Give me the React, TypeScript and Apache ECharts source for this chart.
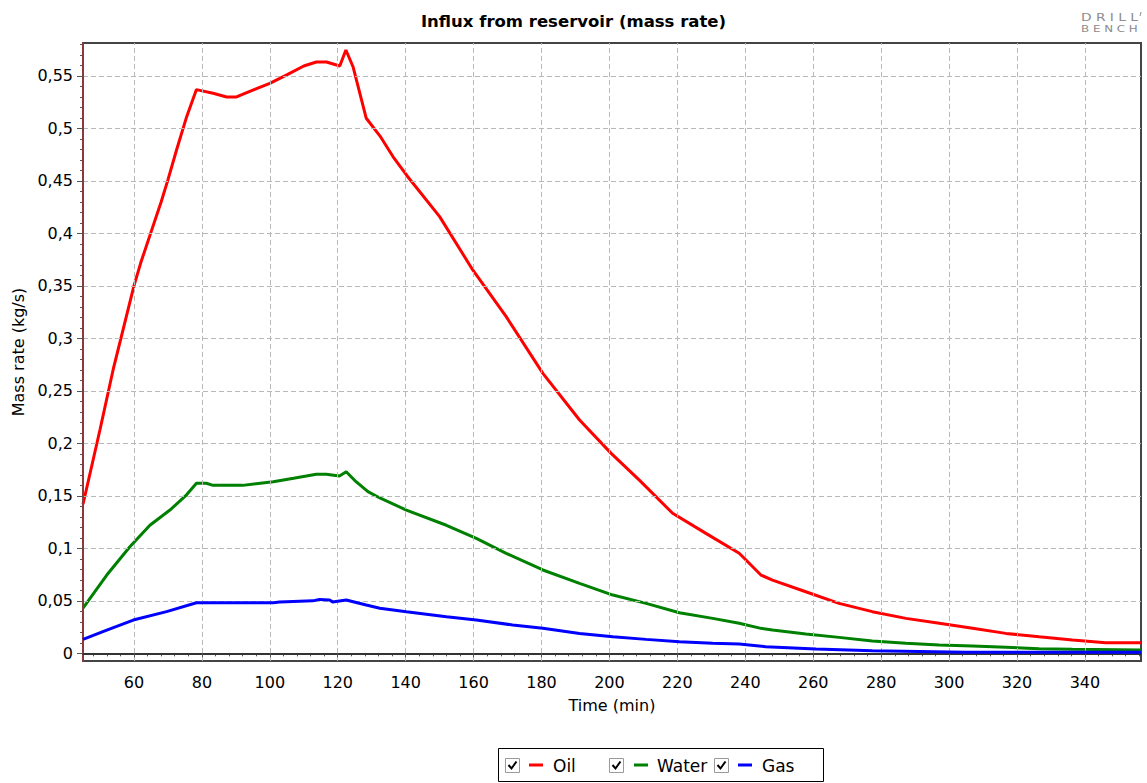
import React, { useEffect, useRef } from "react";
import * as echarts from "echarts";

const seriesNames = ["Oil", "Water", "Gas"];
const seriesColors = ["#ff0000", "#008000", "#0000ff"];

const oilData: [number, number][] = [
  [45, 0.142], [50, 0.213], [54, 0.272], [57, 0.311], [60, 0.35], [62, 0.372],
  [65, 0.401], [68, 0.43], [70, 0.451], [72.5, 0.479], [75.5, 0.511], [78.4, 0.537],
  [83.3, 0.5335], [87.3, 0.53], [90.2, 0.53], [95, 0.5365], [100, 0.543], [105, 0.551],
  [110, 0.5595], [113.7, 0.5633], [116.7, 0.5633], [120.6, 0.5595], [122.4, 0.5747],
  [124.5, 0.5588], [128.4, 0.5097], [132.4, 0.493], [136.3, 0.473], [140.5, 0.4545],
  [150, 0.416], [159.8, 0.365], [169.6, 0.3207], [180.4, 0.2667], [191.2, 0.2223],
  [200.5, 0.1905], [208.8, 0.165], [218.6, 0.1334], [228.4, 0.1143], [238.2, 0.0953],
  [244.6, 0.0746], [248, 0.0698], [257.8, 0.0587], [267.6, 0.0476], [277.4, 0.0397],
  [287.3, 0.0333], [297.1, 0.0286], [306.9, 0.0238], [316.7, 0.019], [326.5, 0.0158],
  [336.3, 0.0127], [346.1, 0.0101], [356.5, 0.0101],
];

const waterData: [number, number][] = [
  [45, 0.043], [52, 0.0746], [58.8, 0.1016], [64.7, 0.122], [70.6, 0.1365], [75.5, 0.151],
  [78.4, 0.162], [81.3, 0.162], [83.3, 0.16], [92, 0.16], [101, 0.1635], [107, 0.1667],
  [113.7, 0.1705], [116.6, 0.1705], [120.5, 0.169], [122.5, 0.173], [125.4, 0.1635],
  [128.9, 0.154], [132.4, 0.148], [140.2, 0.1365], [152, 0.122], [160.8, 0.1095],
  [169.6, 0.0953], [180.4, 0.0794], [191.2, 0.0667], [201, 0.0555], [210.8, 0.0476],
  [220.6, 0.0387], [230.4, 0.0333], [238.2, 0.0286], [244.6, 0.0238], [248, 0.0222],
  [257.8, 0.0184], [267.6, 0.0152], [277.4, 0.0117], [287.3, 0.0095], [297.1, 0.0079],
  [306.9, 0.007], [316.7, 0.0057], [326.5, 0.0044], [336.3, 0.0038], [356.5, 0.0031],
];

const gasData: [number, number][] = [
  [45, 0.0133], [52, 0.0222], [59.8, 0.0317], [69.6, 0.0397], [78.4, 0.0482], [101, 0.0482],
  [102.9, 0.049], [112.7, 0.05], [114.6, 0.0514], [117.6, 0.0508], [118.5, 0.049],
  [122.5, 0.0508], [128.4, 0.046], [132.4, 0.0429], [140.2, 0.0397], [152, 0.0349],
  [160.8, 0.0317], [171.5, 0.027], [180.4, 0.0238], [191.2, 0.019], [201, 0.0158],
  [210.8, 0.0133], [220.6, 0.011], [230.4, 0.0095], [238.2, 0.0089], [246, 0.0063],
  [260.8, 0.0041], [277.4, 0.0025], [304.8, 0.001], [356.5, 0.001],
];

const allData = [oilData, waterData, gasData];

// Axis ranges and tick values
const xRange = [45, 356.5];
const yRange = [-0.0073, 0.5814];
const xTicks = [60, 80, 100, 120, 140, 160, 180, 200, 220, 240, 260, 280, 300, 320, 340];
const yTicks = [0, 0.05, 0.1, 0.15, 0.2, 0.25, 0.3, 0.35, 0.4, 0.45, 0.5, 0.55];
const xMinorTicks = [
  48, 52, 56, 64, 68, 72, 76, 84, 88, 92, 96, 104, 108, 112, 116, 124, 128, 132, 136,
  144, 148, 152, 156, 164, 168, 172, 176, 184, 188, 192, 196, 204, 208, 212, 216,
  224, 228, 232, 236, 244, 248, 252, 256, 264, 268, 272, 276, 284, 288, 292, 296,
  304, 308, 312, 316, 324, 328, 332, 336, 344, 348, 352, 356,
];
const yMinorTicks = [
  0.01, 0.02, 0.03, 0.04, 0.06, 0.07, 0.08, 0.09, 0.11, 0.12, 0.13, 0.14, 0.16, 0.17,
  0.18, 0.19, 0.21, 0.22, 0.23, 0.24, 0.26, 0.27, 0.28, 0.29, 0.31, 0.32, 0.33, 0.34,
  0.36, 0.37, 0.38, 0.39, 0.41, 0.42, 0.43, 0.44, 0.46, 0.47, 0.48, 0.49, 0.51, 0.52,
  0.53, 0.54, 0.56, 0.57, 0.58,
];

const FONT = "'DejaVu Sans', sans-serif";

function fmtY(v: number): string {
  const r = Math.round(v * 1000) / 1000;
  return String(r).replace(".", ",");
}

function fmtX(v: number): string {
  return String(Math.round(v));
}

export default function App() {
  const ref = useRef<HTMLDivElement>(null);

  useEffect(() => {
    if (!ref.current) return;
    const chart = echarts.init(ref.current, null, { renderer: "svg" });

    const legendX = [505, 609, 714];
    const legendLineX = [529, 634, 738];
    const legendTextX = [553, 657, 762];
    const legendGraphics: any[] = [
      {
        type: "rect",
        shape: { x: 498.5, y: 748.5, width: 325, height: 33 },
        style: { fill: "#fff", stroke: "#000", lineWidth: 1 },
        z: 10,
      },
    ];
    seriesNames.forEach((name, i) => {
      legendGraphics.push({
        type: "rect",
        shape: { x: legendX[i] + 0.5, y: 758.5, width: 14, height: 14 },
        style: { fill: "#fff", stroke: "#9a9a9a", lineWidth: 1 },
        z: 11,
      });
      legendGraphics.push({
        type: "polyline",
        shape: {
          points: [
            [legendX[i] + 3.5, 765],
            [legendX[i] + 6.5, 768.5],
            [legendX[i] + 11.5, 761.5],
          ],
        },
        style: { stroke: "#000", lineWidth: 2, fill: null },
        z: 12,
      });
      legendGraphics.push({
        type: "line",
        shape: { x1: legendLineX[i], y1: 765, x2: legendLineX[i] + 14, y2: 765 },
        style: { stroke: seriesColors[i], lineWidth: 3 },
        z: 11,
      });
      legendGraphics.push({
        type: "text",
        x: legendTextX[i],
        y: 766,
        style: {
          text: name,
          fill: "#000",
          font: `17px ${FONT}`,
          textAlign: "left",
          textVerticalAlign: "middle",
        },
        z: 11,
      });
    });

    const logoGraphics: any[] = [
      {
        type: "text",
        x: 1081,
        y: 17,
        scaleX: 1.25,
        style: {
          text: "D R I L L",
          fill: "#8c8c8c",
          font: `11px ${FONT}`,
          textAlign: "left",
          textVerticalAlign: "middle",
        },
      },
      {
        type: "text",
        x: 1081,
        y: 28.5,
        scaleX: 1.32,
        style: {
          text: "B E N C H",
          fill: "#8c8c8c",
          font: `9px ${FONT}`,
          textAlign: "left",
          textVerticalAlign: "middle",
        },
      },
      {
        type: "line",
        shape: { x1: 1141, y1: 12, x2: 1140, y2: 16 },
        style: { stroke: "#8c8c8c", lineWidth: 1 },
      },
    ];

    const tickStyle = { color: "#555", width: 1 };
    const gridLineStyle = { color: "#b8b8b8", width: 1, type: [5, 3] };

    const gridSeries: any = {
      name: "grid",
      type: "line",
      xAxisIndex: 0,
      yAxisIndex: 0,
      data: [],
      showSymbol: false,
      symbol: "none",
      silent: true,
      z: 1,
      lineStyle: { width: 0 },
      markLine: {
        silent: true,
        symbol: ["none", "none"],
        label: { show: false },
        lineStyle: gridLineStyle,
        emphasis: { disabled: true },
        animation: false,
        data: [
          ...xTicks.map((v) => ({ xAxis: v })),
          ...yTicks.map((v) => ({ yAxis: v })),
        ],
      },
    };

    const option: any = {
      animation: false,
      backgroundColor: "#fff",
      textStyle: { fontFamily: FONT },
      title: {
        text: "Influx from reservoir (mass rate)",
        left: "center",
        top: 8,
        textStyle: { fontFamily: FONT, fontSize: 16.5, fontWeight: "bold", color: "#000" },
      },
      grid: {
        left: 83,
        top: 43,
        right: 6,
        bottom: 122,
        show: true,
        borderColor: "#444",
        borderWidth: 2,
        backgroundColor: "#fff",
      },
      xAxis: [
        {
          type: "value",
          min: xRange[0],
          max: xRange[1],
          name: "Time (min)",
          nameLocation: "middle",
          nameGap: 36,
          nameTextStyle: { fontFamily: FONT, fontSize: 16, color: "#000" },
          axisLine: { show: true, lineStyle: { color: "#333", width: 2 } },
          axisTick: { show: true, length: 4, customValues: xTicks, lineStyle: tickStyle },
          minorTick: { show: false },
          axisLabel: {
            customValues: xTicks,
            formatter: fmtX,
            fontFamily: FONT,
            fontSize: 16,
            color: "#000",
            margin: 13,
          },
          splitLine: { show: false },
          z: 5,
        },
        {
          type: "value",
          min: xRange[0],
          max: xRange[1],
          position: "bottom",
          axisLine: { show: false },
          axisTick: { show: true, length: 3, customValues: xMinorTicks, lineStyle: tickStyle },
          axisLabel: { show: false },
          splitLine: { show: false },
        },
      ],
      yAxis: [
        {
          type: "value",
          min: yRange[0],
          max: yRange[1],
          name: "Mass rate (kg/s)",
          nameLocation: "middle",
          nameGap: 55,
          nameRotate: 90,
          nameTextStyle: { fontFamily: FONT, fontSize: 16, color: "#000" },
          axisLine: { show: true, lineStyle: { color: "#8b3a3a", width: 2 } },
          axisTick: { show: true, length: 6, customValues: yTicks, lineStyle: tickStyle },
          minorTick: { show: false },
          axisLabel: {
            customValues: yTicks,
            formatter: fmtY,
            fontFamily: FONT,
            fontSize: 16,
            color: "#000",
            margin: 10,
          },
          splitLine: { show: false },
          z: 5,
        },
        {
          type: "value",
          min: yRange[0],
          max: yRange[1],
          position: "left",
          axisLine: { show: false },
          axisTick: { show: true, length: 3, customValues: yMinorTicks, lineStyle: tickStyle },
          axisLabel: { show: false },
          splitLine: { show: false },
        },
      ],
      series: [
        gridSeries,
        ...seriesNames.map((name, i) => ({
          name,
          type: "line",
          xAxisIndex: 0,
          yAxisIndex: 0,
          data: allData[i],
          showSymbol: false,
          symbol: "none",
          lineStyle: { color: seriesColors[i], width: 3 },
          itemStyle: { color: seriesColors[i] },
          clip: true,
          z: 3 + i,
        })),
      ],
      graphic: [...legendGraphics, ...logoGraphics],
    };

    chart.setOption(option);
    return () => chart.dispose();
  }, []);

  return (
    <div
      ref={ref}
      style={{ position: "absolute", left: 0, top: 0, width: 1147, height: 783, background: "#fff" }}
    />
  );
}
